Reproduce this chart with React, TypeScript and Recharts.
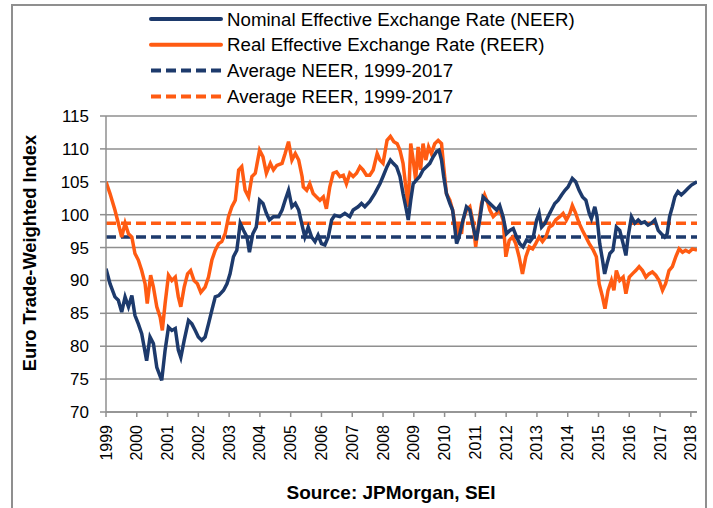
import { CartesianGrid, Line, LineChart, ReferenceLine, XAxis, YAxis } from "recharts";

const NAVY = "#1d3a6c";
const ORANGE = "#ff5b12";
const GRID = "#8f8f8f";
const FONT = "'Liberation Sans', Arial, sans-serif";

// NEER (decimal year, index)
const neerYears = [
  1999.0, 1999.13, 1999.29, 1999.4, 1999.51, 1999.62, 1999.73, 1999.84, 1999.94, 2000.05,
  2000.16, 2000.32, 2000.43, 2000.54, 2000.65, 2000.81, 2000.92, 2001.03, 2001.14, 2001.25,
  2001.35, 2001.43, 2001.54, 2001.68, 2001.79, 2001.9, 2002.0, 2002.11, 2002.22, 2002.33,
  2002.44, 2002.55, 2002.66, 2002.82, 2002.93, 2003.03, 2003.14, 2003.25, 2003.36, 2003.47,
  2003.58, 2003.66, 2003.77, 2003.88, 2003.99, 2004.1, 2004.21, 2004.31, 2004.44, 2004.61,
  2004.72, 2004.82, 2004.93, 2005.04, 2005.15, 2005.26, 2005.37, 2005.46, 2005.57, 2005.68,
  2005.79, 2005.89, 2006.0, 2006.11, 2006.22, 2006.33, 2006.43, 2006.6, 2006.76, 2006.92,
  2007.03, 2007.19, 2007.3, 2007.41, 2007.57, 2007.73, 2007.9, 2008.0, 2008.13, 2008.24,
  2008.33, 2008.44, 2008.55, 2008.65, 2008.76, 2008.82, 2008.9, 2008.98, 2009.09, 2009.19,
  2009.3, 2009.41, 2009.52, 2009.63, 2009.74, 2009.82, 2009.9, 2009.97, 2010.06, 2010.17,
  2010.26, 2010.33, 2010.39, 2010.47, 2010.6, 2010.71, 2010.82, 2010.93, 2011.03, 2011.14,
  2011.25, 2011.36, 2011.47, 2011.58, 2011.69, 2011.79, 2011.9, 2012.01, 2012.12, 2012.23,
  2012.34, 2012.44, 2012.55, 2012.66, 2012.77, 2012.88, 2012.99, 2013.07, 2013.15, 2013.26,
  2013.36, 2013.47, 2013.58, 2013.69, 2013.8, 2013.91, 2014.01, 2014.15, 2014.26, 2014.37,
  2014.48, 2014.59, 2014.7, 2014.77, 2014.88, 2014.95, 2015.04, 2015.13, 2015.2, 2015.28,
  2015.37, 2015.47, 2015.58, 2015.69, 2015.8, 2015.89, 2015.96, 2016.07, 2016.18, 2016.29,
  2016.39, 2016.5, 2016.61, 2016.72, 2016.83, 2016.94, 2017.04, 2017.15, 2017.23, 2017.31,
  2017.4, 2017.48, 2017.58, 2017.69, 2017.8, 2017.91, 2018.02, 2018.13, 2018.2,
];
const neerValues = [
  91.8, 89.5, 87.5, 87.0, 85.2, 87.5, 86.0, 87.7, 84.7, 83.4,
  81.9, 77.8, 81.4, 80.4, 76.8, 74.8, 79.4, 82.9, 82.4, 82.7,
  79.4, 78.3, 80.9, 83.9, 83.4, 82.4, 81.4, 80.9, 81.4, 83.4,
  85.5, 87.5, 87.7, 88.5, 89.5, 91.0, 93.6, 94.6, 98.7, 97.6,
  96.6, 94.3, 97.1, 98.1, 102.2, 101.7, 100.2, 99.2, 99.7, 99.7,
  100.7, 102.2, 103.7, 101.2, 101.7, 100.7, 98.4, 96.6, 98.1, 96.6,
  95.9, 96.9, 95.6, 95.4, 96.6, 99.2, 99.9, 99.7, 100.2, 99.7,
  100.7, 101.2, 101.7, 101.2, 102.0, 103.2, 104.7, 105.8, 107.3, 108.3,
  107.8, 107.3, 105.8, 103.2, 100.7, 99.2, 102.2, 104.7, 105.3, 105.8,
  106.8, 107.3, 107.8, 108.8, 109.6, 109.8, 108.3, 105.8, 103.2, 101.7,
  100.7, 98.1, 95.6, 96.6, 99.2, 101.2, 100.7, 98.1, 96.1, 99.2,
  102.7, 102.2, 101.7, 101.2, 100.7, 101.4, 99.7, 97.1, 97.6, 97.9,
  96.6, 95.6, 95.1, 96.1, 95.9, 96.6, 99.2, 100.2, 98.1, 98.7,
  99.7, 100.7, 101.7, 102.2, 103.0, 103.7, 104.2, 105.5, 105.0, 103.7,
  102.7, 102.2, 100.2, 99.4, 101.2, 99.7, 95.6, 93.1, 91.0, 92.6,
  94.1, 94.6, 98.1, 97.6, 95.6, 93.8, 96.6, 99.7, 98.7, 99.2,
  98.7, 98.9, 98.4, 98.7, 99.2, 97.6, 97.1, 96.6, 97.1, 99.7,
  101.2, 102.7, 103.5, 103.0, 103.5, 104.0, 104.5, 104.8, 105.0,
];

// REER (decimal year, index)
const reerYears = [
  1999.0, 1999.13, 1999.29, 1999.4, 1999.51, 1999.62, 1999.73, 1999.84, 1999.94, 2000.05,
  2000.16, 2000.27, 2000.34, 2000.45, 2000.54, 2000.65, 2000.76, 2000.83, 2000.92, 2001.03,
  2001.14, 2001.25, 2001.35, 2001.43, 2001.54, 2001.65, 2001.75, 2001.86, 2001.97, 2002.08,
  2002.22, 2002.33, 2002.44, 2002.55, 2002.66, 2002.76, 2002.87, 2002.98, 2003.09, 2003.2,
  2003.31, 2003.41, 2003.52, 2003.63, 2003.74, 2003.85, 2003.99, 2004.1, 2004.21, 2004.34,
  2004.44, 2004.55, 2004.72, 2004.82, 2004.93, 2005.04, 2005.15, 2005.26, 2005.37, 2005.41,
  2005.52, 2005.62, 2005.73, 2005.84, 2005.95, 2006.06, 2006.16, 2006.27, 2006.38, 2006.49,
  2006.6, 2006.71, 2006.81, 2006.92, 2007.03, 2007.14, 2007.25, 2007.35, 2007.46, 2007.57,
  2007.68, 2007.81, 2007.9, 2008.0, 2008.13, 2008.24, 2008.35, 2008.46, 2008.55, 2008.65,
  2008.74, 2008.82, 2008.9, 2008.98, 2009.06, 2009.14, 2009.22, 2009.3, 2009.39, 2009.48,
  2009.57, 2009.68, 2009.79, 2009.9, 2009.97, 2010.06, 2010.17, 2010.26, 2010.33, 2010.39,
  2010.47, 2010.55, 2010.6, 2010.71, 2010.82, 2010.93, 2011.01, 2011.09, 2011.2, 2011.3,
  2011.41, 2011.47, 2011.58, 2011.69, 2011.79, 2011.9, 2011.99, 2012.1, 2012.21, 2012.31,
  2012.42, 2012.53, 2012.64, 2012.75, 2012.86, 2012.96, 2013.07, 2013.18, 2013.29, 2013.4,
  2013.5, 2013.61, 2013.74, 2013.85, 2013.96, 2014.07, 2014.15, 2014.26, 2014.37, 2014.48,
  2014.59, 2014.7, 2014.83, 2014.93, 2015.02, 2015.13, 2015.21, 2015.31, 2015.42, 2015.5,
  2015.58, 2015.69, 2015.8, 2015.89, 2016.0, 2016.1, 2016.21, 2016.32, 2016.43, 2016.54,
  2016.64, 2016.75, 2016.86, 2016.97, 2017.08, 2017.18, 2017.29, 2017.4, 2017.51, 2017.62,
  2017.73, 2017.83, 2017.94, 2018.05, 2018.2,
];
const reerValues = [
  105.0, 103.2, 100.7, 98.7, 96.6, 98.7, 97.1, 96.6, 94.1, 93.1,
  91.5, 89.5, 86.5, 90.8, 89.0, 86.0, 84.4, 82.4, 86.5, 90.8,
  90.0, 90.5, 87.5, 86.0, 89.0, 91.0, 91.5, 90.0, 89.5, 88.2,
  89.0, 90.5, 93.1, 94.6, 95.6, 95.9, 97.1, 99.7, 101.2, 102.2,
  106.8, 107.3, 103.7, 102.7, 105.8, 106.3, 109.8, 108.8, 106.3, 107.8,
  106.8, 107.5, 107.8, 109.3, 111.1, 108.3, 109.3, 108.3, 105.8, 104.2,
  103.7, 104.7, 103.2, 102.7, 102.2, 102.7, 100.9, 104.2, 106.3, 106.5,
  105.8, 106.0, 104.7, 106.3, 105.8, 106.3, 107.3, 106.8, 106.0, 106.0,
  106.8, 109.3, 108.3, 107.8, 111.3, 111.9, 111.1, 110.8, 109.8, 107.8,
  104.2, 101.2, 110.8, 108.3, 105.3, 110.3, 106.8, 110.8, 108.3, 110.3,
  109.3, 110.8, 111.3, 110.8, 107.3, 103.2, 102.2, 100.7, 98.7, 96.6,
  98.7, 97.1, 99.2, 100.7, 101.2, 98.7, 95.1, 98.1, 101.7, 103.0,
  101.7, 100.7, 99.7, 100.2, 100.7, 99.2, 93.6, 96.1, 96.6, 95.6,
  93.6, 91.0, 93.6, 95.1, 94.8, 95.6, 96.6, 95.9, 96.6, 98.1,
  98.4, 99.2, 99.7, 100.2, 99.2, 100.2, 101.4, 100.2, 98.7, 97.6,
  96.6, 95.6, 94.6, 93.6, 89.5, 87.5, 85.7, 88.5, 90.0, 88.5,
  91.5, 90.0, 90.5, 88.0, 90.5, 91.0, 91.5, 92.1, 91.5, 90.5,
  91.0, 91.3, 90.8, 90.0, 88.5, 89.5, 91.5, 92.1, 93.6, 94.8,
  94.3, 94.6, 94.3, 94.8, 94.6,
];

const AVG_NEER = 96.6;
const AVG_REER = 98.7;

const yearTicks = [
  1999, 2000, 2001, 2002, 2003, 2004, 2005, 2006, 2007, 2008,
  2009, 2010, 2011, 2012, 2013, 2014, 2015, 2016, 2017, 2018,
];
const valueTicks = [70, 75, 80, 85, 90, 95, 100, 105, 110, 115];

const legendItems = [
  { label: "Nominal Effective Exchange Rate (NEER)", color: NAVY, dashed: false },
  { label: "Real Effective Exchange Rate (REER)", color: ORANGE, dashed: false },
  { label: "Average NEER, 1999-2017", color: NAVY, dashed: true },
  { label: "Average REER, 1999-2017", color: ORANGE, dashed: true },
];

const neerData = neerYears.map((year, i) => ({ year, value: neerValues[i] }));
const reerData = reerYears.map((year, i) => ({ year, value: reerValues[i] }));

function YearTick({ x, y, payload }: { x?: number; y?: number; payload?: { value: number } }) {
  return (
    <text
      x={x}
      y={y}
      transform={`rotate(-90, ${x}, ${y})`}
      textAnchor="end"
      dominantBaseline="central"
      fontSize={16}
      fontFamily={FONT}
      fill="#000"
    >
      {payload?.value}
    </text>
  );
}

export default function App() {
  return (
    <div style={{ position: "absolute", left: 0, top: 0, width: 713, height: 508, background: "#fff", overflow: "hidden", fontFamily: FONT }}>
      {/* moldura cinzenta à volta da figura (o fundo fica fora da imagem) */}
      <div
        style={{
          position: "absolute",
          left: 11,
          top: 4,
          width: 692,
          height: 520,
          borderLeft: `2px solid ${GRID}`,
          borderTop: `2px solid ${GRID}`,
          borderRight: `2px solid ${GRID}`,
        }}
      />

      {/* legenda */}
      <svg width={713} height={110} style={{ position: "absolute", left: 0, top: 0 }}>
        {legendItems.map((item, i) => {
          const cy = 19 + i * 25.8;
          return (
            <g key={item.label}>
              <line
                x1={151}
                x2={221}
                y1={cy}
                y2={cy}
                stroke={item.color}
                strokeWidth={4}
                strokeDasharray={item.dashed ? "10 5" : undefined}
                strokeLinecap={item.dashed ? "butt" : "round"}
              />
              <text x={227} y={cy} dominantBaseline="central" fontSize={18.7} fontFamily={FONT} fill="#000">
                {item.label}
              </text>
            </g>
          );
        })}
      </svg>

      <div style={{ position: "absolute", left: 0, top: 0 }}>
        <LineChart width={713} height={508} margin={{ top: 116, right: 16, bottom: 30, left: 0 }}>
          <CartesianGrid stroke={GRID} strokeWidth={1.5} vertical={false} />
          <XAxis
            type="number"
            dataKey="year"
            domain={[1999, 2018.2]}
            ticks={yearTicks}
            allowDataOverflow
            height={66}
            stroke={GRID}
            strokeWidth={1.5}
            tickSize={5}
            tickMargin={8}
            tick={<YearTick />}
            interval={0}
          />
          <YAxis
            type="number"
            domain={[70, 115]}
            ticks={valueTicks}
            width={106}
            stroke={GRID}
            strokeWidth={1.5}
            tickSize={6}
            tickMargin={11}
            tick={{ fill: "#000", fontSize: 17, fontFamily: FONT }}
            interval={0}
          />
          <ReferenceLine y={AVG_REER} stroke={ORANGE} strokeWidth={3.5} strokeDasharray="10 5" />
          <ReferenceLine y={AVG_NEER} stroke={NAVY} strokeWidth={3.5} strokeDasharray="10 5" />
          <Line
            data={reerData}
            dataKey="value"
            type="linear"
            stroke={ORANGE}
            strokeWidth={3.5}
            dot={false}
            isAnimationActive={false}
          />
          <Line
            data={neerData}
            dataKey="value"
            type="linear"
            stroke={NAVY}
            strokeWidth={3.5}
            dot={false}
            isAnimationActive={false}
          />
        </LineChart>
      </div>

      <div
        style={{
          position: "absolute",
          left: 30,
          top: 253,
          transform: "translate(-50%, -50%) rotate(-90deg)",
          whiteSpace: "nowrap",
          fontWeight: "bold",
          fontSize: 18.3,
        }}
      >
        Euro Trade-Weighted Index
      </div>

      <div
        style={{
          position: "absolute",
          left: 391,
          top: 493,
          transform: "translate(-50%, -50%)",
          whiteSpace: "nowrap",
          fontWeight: "bold",
          fontSize: 19,
        }}
      >
        Source: JPMorgan, SEI
      </div>
    </div>
  );
}
